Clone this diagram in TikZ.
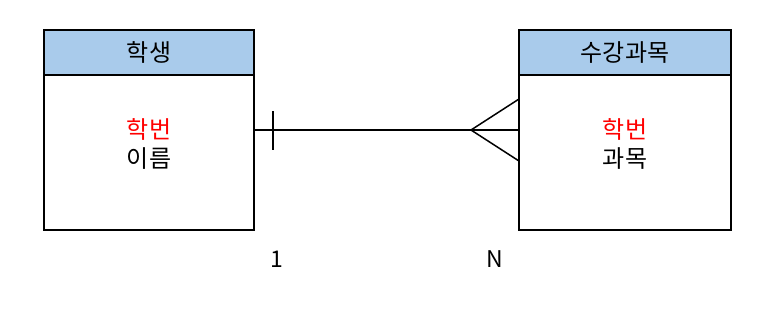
\documentclass[tikz,border=0pt]{standalone}
\usepackage{fontspec}
\newfontfamily\kr{Noto Sans CJK KR}
\definecolor{hdr}{HTML}{A9CBEB}
\begin{document}
\begin{tikzpicture}[x=1pt,y=-1pt,
  lw/.style={line width=1.5pt},
  hdrbox/.style={lw,fill=hdr,draw=black},
  bodybox/.style={lw,draw=black,fill=white},
  txt/.style={font=\kr\fontsize{24}{29.5}\selectfont,inner sep=0pt,align=center},
  lbl/.style={font=\kr\fontsize{23}{26}\selectfont,inner sep=0pt}]
\useasboundingbox (0,0) rectangle (773,311);
% left entity
\draw[bodybox] (44,75) rectangle (254,230);
\draw[hdrbox] (44,30) rectangle (254,75);
\node[txt] (lh) at (149,52.5) {학생};
\node[txt] (lb) at (149,144) {\textcolor{red}{학번}\\이름};
% right entity
\draw[bodybox] (519,75) rectangle (731,230);
\draw[hdrbox] (519,30) rectangle (731,75);
\node[txt] (rh) at (625,52.5) {수강과목};
\node[txt] (rb) at (625,144) {\textcolor{red}{학번}\\과목};
% connector
\coordinate (a) at (254,130);
\coordinate (b) at (519,130);
\draw[lw] (a) -- (b);
\draw[lw] (273,111) -- (273,150);
\coordinate (tip) at (471,130);
\draw[lw] (519,99) -- (tip) -- (519,161);
\node[lbl] (one) at (277,259) {1};
\node[lbl] (n) at (495,259) {N};
\end{tikzpicture}
\end{document}
